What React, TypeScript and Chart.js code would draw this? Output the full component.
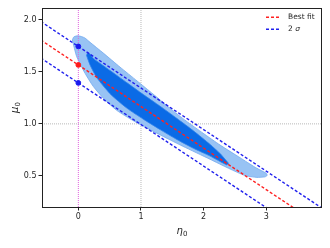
import { useEffect, useRef } from "react";
import { Chart, registerables } from "chart.js";
Chart.register(...registerables);

const X_MIN = -0.58;
const X_MAX = 3.89;
const Y_MIN = 0.2;
const Y_MAX = 2.115;
const xTicks = [0, 1, 2, 3];
const yTicks = [0.5, 1.0, 1.5, 2.0];

const lineX = [-0.6, 4.0];
const bestFitY = [1.807, -0.033];
const sigmaUpperY = [1.985, 0.145];
const sigmaLowerY = [1.634, -0.206];

const bestFitPointX = [0];
const bestFitPointY = [1.567];
const sigmaPointX = [0, 0];
const sigmaPointY = [1.745, 1.394];

const markerLineX = 0;
const gridLineX = 1;
const gridLineY = 1;

const outerX = [-0.096, -0.07, 0.0, 0.1, 0.187, 0.399, 0.666, 0.938, 1.193, 1.465, 1.72, 1.992, 2.264, 2.583, 2.823, 2.951, 3.0, 3.015, 2.98, 2.85, 2.66, 2.4, 2.1, 1.67, 1.47, 1.145, 0.879, 0.613, 0.399, 0.24, 0.107, -0.026, -0.096];
const outerY = [1.808, 1.838, 1.848, 1.828, 1.785, 1.681, 1.546, 1.413, 1.287, 1.149, 1.028, 0.91, 0.796, 0.674, 0.582, 0.541, 0.524, 0.505, 0.49, 0.485, 0.503, 0.572, 0.66, 0.784, 0.844, 0.944, 1.03, 1.13, 1.247, 1.359, 1.487, 1.647, 1.808];

const innerX = [0.13, 0.15, 0.19, 0.24, 0.506, 0.773, 1.038, 1.305, 1.572, 1.837, 2.104, 2.264, 2.36, 2.396, 2.37, 2.104, 1.837, 1.572, 1.305, 1.038, 0.773, 0.506, 0.294, 0.187, 0.13];
const innerY = [1.66, 1.685, 1.672, 1.63, 1.514, 1.397, 1.282, 1.17, 1.053, 0.933, 0.802, 0.714, 0.647, 0.62, 0.605, 0.69, 0.765, 0.85, 0.945, 1.045, 1.152, 1.29, 1.445, 1.567, 1.66];

const legendLabels = ["Best fit", "2 "];
const legendSymbol = "σ";

const FONT = "'DejaVu Sans', sans-serif";
const TEXT = "#262626";

const zip = (xs: number[], ys: number[]) => xs.map((x, i) => ({ x, y: ys[i] }));

const framePlugin = {
  id: "frame",
  afterDraw(chart: any) {
    const { ctx, chartArea: a } = chart;
    ctx.save();
    ctx.setLineDash([]);
    ctx.strokeStyle = "#222";
    ctx.lineWidth = 1;
    ctx.strokeRect(Math.round(a.left) + 0.5, Math.round(a.top) + 0.5, Math.round(a.right - a.left) - 1, Math.round(a.bottom - a.top));
    // legend
    const lx = a.right - 56;
    const rows = [
      { color: "#ff2020", y: a.top + 9.3 },
      { color: "#2020ee", y: a.top + 21.3 },
    ];
    rows.forEach((r, i) => {
      ctx.strokeStyle = r.color;
      ctx.lineWidth = 1.4;
      ctx.setLineDash([3, 2]);
      ctx.beginPath();
      ctx.moveTo(lx, r.y);
      ctx.lineTo(lx + 15, r.y);
      ctx.stroke();
      ctx.setLineDash([]);
      ctx.fillStyle = TEXT;
      ctx.textBaseline = "middle";
      ctx.textAlign = "left";
      ctx.font = `7.5px ${FONT}`;
      ctx.fillText(legendLabels[i], lx + 22, r.y);
      if (i === 1) {
        const w = ctx.measureText(legendLabels[i]).width;
        ctx.font = `italic 7.5px ${FONT}`;
        ctx.fillText(legendSymbol, lx + 22 + w, r.y);
      }
    });
    // x title
    const cx = (a.left + a.right) / 2;
    ctx.fillStyle = TEXT;
    ctx.textBaseline = "alphabetic";
    ctx.font = `italic 10px ${FONT}`;
    const ew = ctx.measureText("η").width;
    ctx.font = `7px ${FONT}`;
    const zw = ctx.measureText("0").width;
    const sx = cx - (ew + zw) / 2;
    ctx.font = `italic 10px ${FONT}`;
    ctx.fillText("η", sx, 234);
    ctx.font = `7px ${FONT}`;
    ctx.fillText("0", sx + ew, 236);
    // y title
    ctx.save();
    ctx.translate(17.5, (a.top + a.bottom) / 2);
    ctx.rotate(-Math.PI / 2);
    ctx.font = `italic 10px ${FONT}`;
    const mw = ctx.measureText("μ").width;
    const sy = -(mw + zw) / 2;
    ctx.fillText("μ", sy, 0);
    ctx.font = `7px ${FONT}`;
    ctx.fillText("0", sy + mw, 2);
    ctx.restore();
    ctx.restore();
  },
};

export default function App() {
  const ref = useRef<HTMLCanvasElement>(null);
  useEffect(() => {
    document.body.style.margin = "0";
    const dashed = (data: any[], color: string) => ({
      type: "scatter" as const,
      data,
      showLine: true,
      borderColor: color,
      borderWidth: 1.4,
      borderDash: [3, 2],
      pointRadius: 0,
      fill: false,
    });
    const chart = new Chart(ref.current!, {
      type: "scatter",
      data: {
        datasets: [
          {
            data: zip(bestFitPointX, bestFitPointY),
            backgroundColor: "#ff1a1a",
            borderColor: "#ff1a1a",
            pointRadius: 2.4,
            showLine: false,
          },
          {
            data: zip(sigmaPointX, sigmaPointY),
            backgroundColor: "#1a1aee",
            borderColor: "#1a1aee",
            pointRadius: 2.4,
            showLine: false,
          },
          dashed(zip(lineX, bestFitY), "#ff2020"),
          dashed(zip(lineX, sigmaUpperY), "#2020ee"),
          dashed(zip(lineX, sigmaLowerY), "#2020ee"),
          {
            data: [{ x: markerLineX, y: Y_MIN }, { x: markerLineX, y: Y_MAX }],
            showLine: true,
            borderColor: "#e060e0",
            borderWidth: 1,
            borderDash: [1, 1],
            pointRadius: 0,
          },
          {
            data: zip(innerX, innerY),
            showLine: true,
            tension: 0.2,
            borderColor: "#2f83ec",
            borderWidth: 0.8,
            backgroundColor: "#0b6be6",
            fill: "shape",
            pointRadius: 0,
          },
          {
            data: zip(outerX, outerY),
            showLine: true,
            tension: 0.2,
            borderColor: "#72aaef",
            borderWidth: 0.8,
            backgroundColor: "#98c3f4",
            fill: "shape",
            pointRadius: 0,
          },
          {
            data: [{ x: gridLineX, y: Y_MIN }, { x: gridLineX, y: Y_MAX }],
            showLine: true,
            borderColor: "#b8b8b8",
            borderWidth: 1,
            borderDash: [1, 1],
            pointRadius: 0,
          },
          {
            data: [{ x: X_MIN, y: gridLineY }, { x: X_MAX, y: gridLineY }],
            showLine: true,
            borderColor: "#b8b8b8",
            borderWidth: 1,
            borderDash: [1, 1],
            pointRadius: 0,
          },
        ] as any,
      },
      options: {
        responsive: false,
        animation: false,
        layout: { padding: { left: 0, top: 8, right: 8, bottom: 0 } },
        plugins: { legend: { display: false }, tooltip: { enabled: false } },
        scales: {
          x: {
            type: "linear",
            min: X_MIN,
            max: X_MAX,
            afterBuildTicks: (s: any) => {
              s.ticks = xTicks.map((v) => ({ value: v }));
            },
            afterFit: (s: any) => {
              s.height = 41;
            },
            ticks: {
              font: { family: FONT, size: 8 },
              color: TEXT,
              padding: 2,
              callback: (v: any) => String(v),
            },
            grid: { display: true, drawOnChartArea: false, drawTicks: true, tickLength: 3.5, color: "#222" },
            border: { display: false },
          },
          y: {
            type: "linear",
            min: Y_MIN,
            max: Y_MAX,
            afterBuildTicks: (s: any) => {
              s.ticks = yTicks.map((v) => ({ value: v }));
            },
            afterFit: (s: any) => {
              s.width = 42;
            },
            ticks: {
              font: { family: FONT, size: 8 },
              color: TEXT,
              padding: 2,
              callback: (v: any) => Number(v).toFixed(1),
            },
            grid: { display: true, drawOnChartArea: false, drawTicks: true, tickLength: 3.5, color: "#222" },
            border: { display: false },
          },
        },
      },
      plugins: [framePlugin],
    });
    return () => chart.destroy();
  }, []);
  return <canvas ref={ref} width={330} height={248} style={{ display: "block" }} />;
}
